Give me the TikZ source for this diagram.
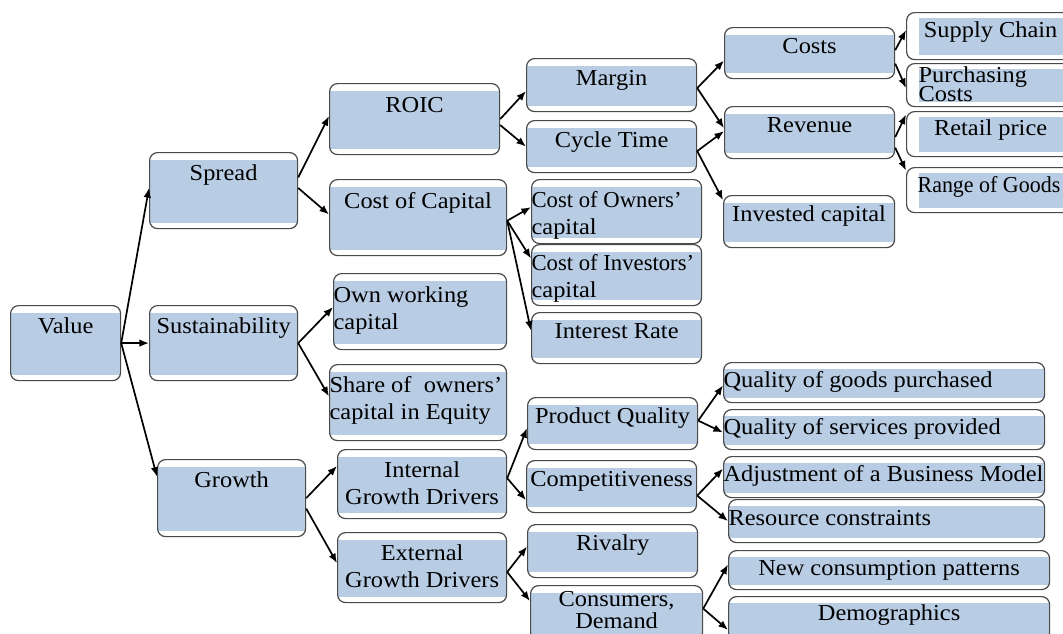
\documentclass[tikz,border=0pt]{standalone}
\usepackage{fontspec}
\setmainfont{Liberation Serif}[FakeStretch=1.07]
\usepackage{xcolor}
\usepackage{graphicx}
\usetikzlibrary{arrows.meta}
\definecolor{boxblue}{HTML}{B8CCE4}
\definecolor{boxline}{HTML}{4A4A4A}
\newlength\unitpx
\setlength\unitpx{0.5pt}
\newcommand{\celltext}[5][\centering]{\parbox[c][#3\unitpx][t]{#2\unitpx}{#1\lineskiplimit=-\maxdimen
  \hyphenpenalty=10000 \exhyphenpenalty=10000
  \vspace*{\dimexpr#4\unitpx-10pt\relax}\rule{0pt}{10pt}#5\par}}
\newcommand{\narrow}[1]{\scalebox{0.93}[1]{#1}}

\begin{document}
\begin{tikzpicture}[x=0.5pt,y=-0.5pt,
    font=\fontsize{11.4pt}{13.5pt}\selectfont,
    band top/.store in=\bandtop, band bot/.store in=\bandbot, band left/.store in=\bandleft,
    band top=3.5pt, band bot=3pt, band left=0pt,
    cell/.style={anchor=north west, inner sep=0pt, draw=boxline, line width=0.6pt, fill=white,
      rounded corners=4pt,
      path picture={\fill[boxblue, sharp corners] ([xshift=\bandleft, yshift=-\bandtop]path picture bounding box.north west)
        rectangle ([yshift=\bandbot]path picture bounding box.south east);}},
    slim/.style={cell, band top=3pt, band bot=2.5pt},
    edge/.style={cell, band top=2.5pt, band bot=2.5pt, band left=6pt},
    arr/.style={-{Latex[length=4.8pt,width=3.8pt]}, line width=0.85pt}]
    \useasboundingbox (0,0) rectangle (1063,633);
    \node[cell] (value) at (10,305) {\celltext{110}{75}{28}{Value}};
    \node[cell] (spread) at (149,152) {\celltext{148}{76}{28}{Spread}};
    \node[cell] (sust) at (149,305) {\celltext{148}{75}{28}{Sustainability}};
    \node[cell] (growth) at (157,459) {\celltext{148}{77}{28}{Growth}};
    \node[cell] (roic) at (329,83) {\celltext{170}{71}{29}{ROIC}};
    \node[cell] (costcap) at (329,179) {\celltext{177}{76}{29}{Cost of Capital}};
    \node[cell] (ownwc) at (333,273) {\celltext[\raggedright]{173}{76}{29}{Own working\\capital}};
    \node[cell] (share) at (329,364) {\celltext[\raggedright]{177}{76}{28}{Share~of\ \ owners'\\capital in Equity}};
    \node[cell] (internal) at (337,449) {\celltext{169}{69}{28}{Internal\\Growth Drivers}};
    \node[cell] (external) at (337,532) {\celltext{169}{70}{28}{External\\Growth Drivers}};
    \node[cell] (margin) at (526,58) {\celltext{170}{53}{27}{Margin}};
    \node[cell] (cycle) at (526,120) {\celltext{170}{52}{27}{Cycle Time}};
    \node[cell] (owners) at (531,179) {\celltext[\raggedright]{170}{64}{28}{\narrow{Cost of Owners'}\\capital}};
    \node[cell] (investors) at (531,244) {\celltext[\raggedright]{170}{61}{26}{\narrow{Cost of Investors'}\\capital}};
    \node[cell] (interest) at (531,312) {\celltext{170}{51}{26}{Interest Rate}};
    \node[cell] (pq) at (527,397) {\celltext{170}{52}{26}{Product~Quality}};
    \node[cell] (compet) at (526,460) {\celltext{170}{52}{26}{Competitiveness}};
    \node[cell] (rivalry) at (527,524) {\celltext{170}{53}{26}{Rivalry}};
    \node[cell] (consumers) at (530,585) {\celltext{172}{55}{21}{\baselineskip=11pt Consumers,\\Demand}};
    \node[cell] (costs) at (724,27) {\celltext{170}{51}{26}{Costs}};
    \node[cell] (revenue) at (724,106) {\celltext{170}{52}{26}{Revenue}};
    \node[cell] (invested) at (723,195) {\celltext{171}{52}{26}{Invested capital}};
    \node[edge] (supply) at (906,12) {\celltext{168}{47}{25}{Supply Chain}};
    \node[edge] (purchasing) at (906,63) {\celltext[\raggedright\leftskip=6pt]{168}{43}{19}{\baselineskip=9.5pt Purchasing\\Costs}};
    \node[edge] (retail) at (906,111) {\celltext{168}{45}{24}{Retail price}};
    \node[edge] (range) at (906,167) {\celltext[\raggedright\leftskip=5.5pt]{168}{45}{25}{\scalebox{0.9}[1]{Range of Goods}}};
    \node[slim] (goods) at (723,362) {\celltext[\raggedright]{321}{40}{25}{Quality~of~goods~purchased}};
    \node[slim] (services) at (723,409) {\celltext[\raggedright]{321}{40}{25}{Quality~of~services~provided}};
    \node[slim] (adjust) at (723,456) {\celltext[\raggedright]{321}{41}{25}{Adjustment~of~a~Business~Model}};
    \node[slim] (resource) at (728,499) {\celltext[\raggedright]{316}{43}{26}{Resource~constraints}};
    \node[slim] (newcons) at (728,550) {\celltext{321}{39}{25}{New~consumption~patterns}};
    \node[slim] (demog) at (728,596) {\celltext{321}{44}{24}{Demographics}};
    \draw[arr] (value.east) -- (spread.178);
    \draw[arr] (value.east) -- (sust.west);
    \draw[arr] (value.east) -- (growth.164);
    \draw[arr] (spread.10) -- (roic.178);
    \draw[arr] (spread.2) -- (costcap.178);
    \draw[arr] (sust.east) -- (ownwc.177);
    \draw[arr] (sust.east) -- (share.176);
    \draw[arr] (growth.east) -- (internal.168);
    \draw[arr] (growth.352) -- (external.177);
    \draw[arr] (roic.east) -- (margin.184);
    \draw[arr] (roic.356) -- (cycle.west);
    \draw[arr] (costcap.358) -- (owners.177);
    \draw[arr] (costcap.358) -- (investors.169);
    \draw[arr] (costcap.358) -- (interest.175);
    \draw[arr] (internal.4) -- (pq.183);
    \draw[arr] (internal.4) -- (compet.189);
    \draw[arr] (external.357) -- (rivalry.177);
    \draw[arr] (external.357) -- (consumers.172);
    \draw[arr] (margin.358) -- (costs.185);
    \draw[arr] (margin.358) -- (revenue.177);
    \draw[arr] (cycle.357) -- (revenue.179);
    \draw[arr] (cycle.357) -- (invested.166);
    \draw[arr] (costs.2) -- (supply.176);
    \draw[arr] (costs.353) -- (purchasing.182);
    \draw[arr] (revenue.357) -- (retail.167);
    \draw[arr] (revenue.350) -- (range.167);
    \draw[arr] (pq.2) -- (goods.181);
    \draw[arr] (pq.2) -- (services.181);
    \draw[arr] (compet.354) -- (adjust.177);
    \draw[arr] (compet.354) -- (resource.west);
    \draw[arr] (consumers.3) -- (newcons.178);
    \draw[arr] (consumers.3) -- (demog.184);
\end{tikzpicture}
\end{document}
